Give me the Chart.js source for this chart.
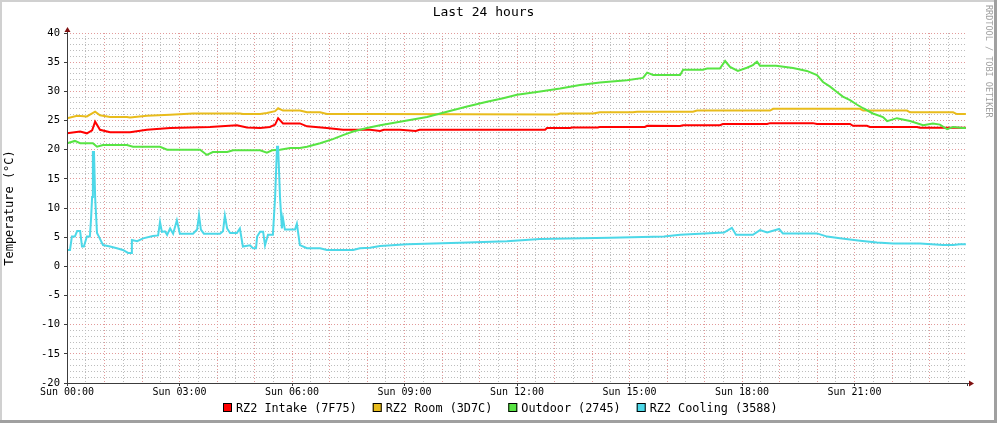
<!DOCTYPE html>
<html>
<head>
<meta charset="utf-8">
<script src="https://cdn.jsdelivr.net/npm/chart.js@4.4.0/dist/chart.umd.min.js"></script>
<style>
  html, body { margin: 0; padding: 0; background: #fff; overflow: hidden; }
  canvas { display: block; }
</style>
</head>
<body>
<canvas id="graph" width="997" height="423"></canvas>
<script>
// hours since Sun 00:00, temperatures in °C
const dayLabel = "Sun";
const titleText = "Last 24 hours";
const unitText = "Temperature (°C)";
const watermark = "RRDTOOL / TOBI OETIKER";

const seriesLabels = ["RZ2 Intake (7F75)", "RZ2 Room (3D7C)", "Outdoor (2745)", "RZ2 Cooling (3588)"];
const seriesColors = ["#ff0000", "#e8bc1c", "#58e443", "#4cd8e8"];

const intakeHours = [0.00, 0.35, 0.53, 0.67, 0.75, 0.88, 1.15, 1.68, 2.13, 2.75, 3.81, 4.53, 4.80, 5.15, 5.41, 5.55, 5.63, 5.76, 6.21, 6.40, 6.93, 7.36, 8.08, 8.35, 8.45, 8.88, 9.30, 9.40, 12.75, 12.80, 13.41, 13.47, 14.16, 14.21, 15.41, 15.47, 16.35, 16.43, 17.41, 17.49, 18.67, 18.75, 19.89, 20.00, 20.88, 20.96, 21.33, 21.41, 22.67, 22.75, 23.97];
const intakeTemps = [22.8, 23.1, 22.8, 23.3, 24.8, 23.4, 23.0, 23.0, 23.4, 23.7, 23.9, 24.2, 23.8, 23.7, 23.9, 24.3, 25.4, 24.5, 24.5, 24.0, 23.7, 23.4, 23.4, 23.2, 23.4, 23.4, 23.2, 23.4, 23.4, 23.7, 23.7, 23.8, 23.8, 23.9, 23.9, 24.1, 24.05, 24.2, 24.2, 24.4, 24.4, 24.55, 24.55, 24.4, 24.4, 24.1, 24.1, 23.9, 23.9, 23.75, 23.75];

const roomHours = [0.00, 0.27, 0.53, 0.75, 0.88, 1.15, 1.60, 1.68, 2.13, 2.75, 3.36, 4.61, 4.69, 5.15, 5.33, 5.55, 5.63, 5.76, 6.21, 6.40, 6.75, 6.93, 8.08, 13.07, 13.15, 14.03, 14.21, 15.09, 15.20, 16.69, 16.80, 18.75, 18.83, 21.15, 21.23, 22.40, 22.48, 23.63, 23.73, 23.97];
const roomTemps = [25.4, 25.8, 25.7, 26.5, 25.9, 25.6, 25.6, 25.5, 25.8, 26.0, 26.2, 26.2, 26.1, 26.1, 26.3, 26.6, 27.1, 26.7, 26.7, 26.4, 26.4, 26.1, 26.1, 26.05, 26.2, 26.2, 26.4, 26.4, 26.5, 26.5, 26.7, 26.7, 27.0, 27.0, 26.7, 26.7, 26.4, 26.4, 26.1, 26.1];

const outdoorHours = [0.00, 0.21, 0.35, 0.69, 0.80, 0.96, 1.60, 1.76, 2.48, 2.67, 3.55, 3.73, 3.89, 4.27, 4.43, 5.15, 5.33, 5.47, 5.68, 5.95, 6.21, 6.40, 6.75, 7.09, 7.36, 7.63, 8.00, 8.35, 8.88, 9.60, 10.13, 10.67, 11.20, 11.63, 12.00, 12.53, 13.15, 13.68, 14.21, 14.93, 15.36, 15.47, 15.63, 16.35, 16.43, 16.96, 17.07, 17.41, 17.55, 17.68, 17.89, 18.13, 18.29, 18.40, 18.48, 18.91, 19.36, 19.73, 20.00, 20.16, 20.35, 20.53, 20.69, 20.88, 21.07, 21.23, 21.49, 21.76, 21.87, 22.13, 22.48, 22.83, 23.09, 23.28, 23.47, 23.63, 23.89, 23.97];
const outdoorTemps = [21.1, 21.5, 21.1, 21.1, 20.5, 20.8, 20.8, 20.5, 20.5, 20.0, 20.0, 19.1, 19.6, 19.6, 19.9, 19.9, 19.5, 19.9, 20.0, 20.3, 20.3, 20.5, 21.1, 21.8, 22.5, 23.1, 23.7, 24.2, 24.8, 25.6, 26.5, 27.4, 28.2, 28.8, 29.4, 29.9, 30.5, 31.1, 31.5, 31.9, 32.3, 33.2, 32.8, 32.8, 33.7, 33.7, 33.9, 33.9, 35.2, 34.2, 33.5, 34.05, 34.5, 35.1, 34.4, 34.4, 34.0, 33.5, 32.8, 31.6, 30.8, 29.9, 29.1, 28.5, 27.7, 27.1, 26.2, 25.6, 24.9, 25.4, 24.9, 24.2, 24.5, 24.3, 23.5, 23.9, 23.7, 23.7];

const coolingHours = [0.00, 0.08, 0.13, 0.21, 0.27, 0.35, 0.40, 0.45, 0.53, 0.61, 0.64, 0.67, 0.69, 0.72, 0.75, 0.80, 0.85, 0.96, 1.15, 1.33, 1.49, 1.63, 1.71, 1.73, 1.87, 2.03, 2.29, 2.43, 2.48, 2.53, 2.61, 2.67, 2.75, 2.83, 2.93, 3.01, 3.36, 3.47, 3.52, 3.57, 3.65, 4.08, 4.16, 4.21, 4.27, 4.35, 4.53, 4.61, 4.69, 4.88, 4.96, 5.04, 5.07, 5.15, 5.23, 5.28, 5.36, 5.49, 5.55, 5.60, 5.63, 5.68, 5.73, 5.76, 5.81, 6.08, 6.13, 6.21, 6.40, 6.75, 6.93, 7.63, 7.81, 8.08, 8.35, 9.07, 10.48, 11.73, 12.61, 14.48, 15.92, 16.35, 17.52, 17.73, 17.84, 18.29, 18.48, 18.67, 18.99, 19.09, 20.00, 20.27, 20.61, 21.15, 21.60, 22.03, 22.75, 23.36, 23.63, 23.81, 23.97];
const coolingTemps = [2.8, 2.8, 5.1, 5.1, 6.05, 6.05, 3.4, 3.4, 5.1, 5.1, 8.0, 11.9, 19.6, 19.6, 11.9, 5.7, 5.1, 3.65, 3.4, 3.1, 2.8, 2.3, 2.3, 4.5, 4.3, 4.8, 5.2, 5.3, 7.6, 5.9, 6.0, 5.4, 6.5, 5.6, 7.9, 5.6, 5.6, 6.3, 8.8, 6.3, 5.6, 5.6, 6.0, 8.7, 6.5, 5.7, 5.7, 6.5, 3.4, 3.6, 3.1, 3.1, 5.1, 5.95, 5.95, 3.6, 5.4, 5.4, 11.9, 20.5, 20.5, 11.9, 6.5, 8.2, 6.3, 6.3, 7.3, 3.65, 3.1, 3.1, 2.8, 2.8, 3.1, 3.2, 3.5, 3.8, 4.05, 4.3, 4.7, 4.9, 5.1, 5.4, 5.8, 6.6, 5.4, 5.4, 6.2, 5.8, 6.4, 5.65, 5.65, 5.1, 4.8, 4.4, 4.1, 3.9, 3.9, 3.65, 3.65, 3.8, 3.8];

const seriesHours = [intakeHours, roomHours, outdoorHours, coolingHours];
const seriesTemps = [intakeTemps, roomTemps, outdoorTemps, coolingTemps];

const mono = "'DejaVu Sans Mono', 'Liberation Mono', monospace";
const minorGrid = "#bdbdbd";
const majorGrid = "#e29a9a";
const arrowColor = "#7f1010";

const rrdLook = {
  id: "rrdLook",
  beforeDraw(chart) {
    const { ctx, width, height } = chart;
    ctx.save();
    ctx.fillStyle = "#ffffff";
    ctx.fillRect(0, 0, width, height);
    ctx.fillStyle = "#d0d0d0";
    ctx.fillRect(0, 0, width, 2);
    ctx.fillRect(0, 0, 2, height);
    ctx.fillStyle = "#a0a0a0";
    ctx.fillRect(width - 3, 0, 3, height);
    ctx.fillRect(0, height - 3, width, 3);
    ctx.restore();
  },
  afterDraw(chart) {
    const { ctx, chartArea: a } = chart;
    const x0 = Math.round(a.left) + 0.5;
    const y0 = Math.round(a.bottom) + 0.5;
    ctx.save();

    // axes
    ctx.strokeStyle = "#3c3c3c";
    ctx.lineWidth = 1;
    ctx.beginPath();
    ctx.moveTo(x0, y0);
    ctx.lineTo(x0, a.top - 4);
    ctx.moveTo(x0 - 3, y0);
    ctx.lineTo(a.right + 3, y0);
    ctx.stroke();

    // arrows
    ctx.fillStyle = arrowColor;
    ctx.beginPath();
    ctx.moveTo(x0, a.top - 6);
    ctx.lineTo(x0 - 3, a.top - 1);
    ctx.lineTo(x0 + 3, a.top - 1);
    ctx.closePath();
    ctx.fill();
    ctx.beginPath();
    ctx.moveTo(a.right + 7, y0);
    ctx.lineTo(a.right + 2, y0 - 3);
    ctx.lineTo(a.right + 2, y0 + 3);
    ctx.closePath();
    ctx.fill();

    // legend
    ctx.font = "11.8px " + mono;
    ctx.textBaseline = "middle";
    ctx.textAlign = "left";
    const box = 9, gapText = 4, gapItem = 16;
    const widths = seriesLabels.map(t => ctx.measureText(t).width);
    const total = widths.reduce((s, w) => s + box + gapText + w, 0) + gapItem * (seriesLabels.length - 1);
    let lx = Math.round(chart.width / 2 - total / 2) + 2;
    const ly = 408;
    seriesLabels.forEach((t, i) => {
      ctx.fillStyle = seriesColors[i];
      ctx.fillRect(lx, ly - 5, box, box);
      ctx.strokeStyle = "#000";
      ctx.strokeRect(lx + 0.5, ly - 4.5, box - 1, box - 1);
      ctx.fillStyle = "#000";
      ctx.fillText(t, lx + box + gapText, ly + 1);
      lx += box + gapText + widths[i] + gapItem;
    });

    // watermark
    ctx.translate(988, 5);
    ctx.rotate(Math.PI / 2);
    ctx.font = "8.5px " + mono;
    ctx.fillStyle = "#a0a0a0";
    ctx.textBaseline = "middle";
    ctx.fillText(watermark, 0, 0);
    ctx.restore();
  }
};

const pad2 = n => String(n).padStart(2, "0");

new Chart(document.getElementById("graph"), {
  type: "line",
  data: {
    datasets: seriesLabels.map((label, i) => ({
      label,
      data: seriesHours[i].map((h, k) => ({ x: h, y: seriesTemps[i][k] })),
      borderColor: seriesColors[i],
      backgroundColor: seriesColors[i],
      borderWidth: 2,
      pointRadius: 0,
      tension: 0,
      fill: false,
      order: seriesLabels.length - i
    }))
  },
  options: {
    responsive: false,
    animation: false,
    events: [],
    layout: { padding: { top: 0, left: 0, right: 30, bottom: 20 } },
    plugins: {
      legend: { display: false },
      tooltip: { enabled: false },
      title: {
        display: true,
        text: titleText,
        color: "#000",
        font: { family: mono, size: 13, weight: "normal", lineHeight: 1.2 },
        padding: { top: 5, bottom: 12.4 }
      }
    },
    scales: {
      x: {
        type: "linear",
        min: 0,
        max: 24,
        afterFit: s => { s.height = 20; },
        ticks: {
          stepSize: 0.5,
          autoSkip: false,
          maxRotation: 0,
          padding: 0,
          color: "#000",
          font: { family: mono, size: 10 },
          callback: v => (v % 3 === 0 && v < 24) ? dayLabel + " " + pad2(v) + ":00" : ""
        },
        grid: {
          lineWidth: 1,
          tickLength: 3,
          tickBorderDash: [],
          color: c => (c.tick.value <= 0 || c.tick.value >= 24) ? "rgba(0,0,0,0)" : (c.tick.value % 1 === 0 ? majorGrid : minorGrid),
          tickColor: c => (c.tick.value % 3 === 0) ? "#3c3c3c" : "rgba(0,0,0,0)"
        },
        border: { display: false, dash: [1, 2] }
      },
      y: {
        min: -20,
        max: 40,
        afterFit: s => { s.width = 67; },
        ticks: {
          stepSize: 1,
          autoSkip: false,
          padding: 4,
          color: "#000",
          font: { family: mono, size: 10.5 },
          callback: v => v % 5 === 0 ? String(v) : ""
        },
        grid: {
          lineWidth: 1,
          tickLength: 3,
          tickBorderDash: [],
          color: c => c.tick.value === -20 ? "rgba(0,0,0,0)" : (c.tick.value % 5 === 0 ? majorGrid : minorGrid),
          tickColor: c => c.tick.value % 5 === 0 ? "#3c3c3c" : "rgba(0,0,0,0)"
        },
        border: { display: false, dash: [1, 2] },
        title: {
          display: true,
          text: unitText,
          color: "#000",
          font: { family: mono, size: 12, lineHeight: 1.2 },
          padding: { top: 3, bottom: 0 }
        }
      }
    }
  },
  plugins: [rrdLook]
});
</script>
</body>
</html>
